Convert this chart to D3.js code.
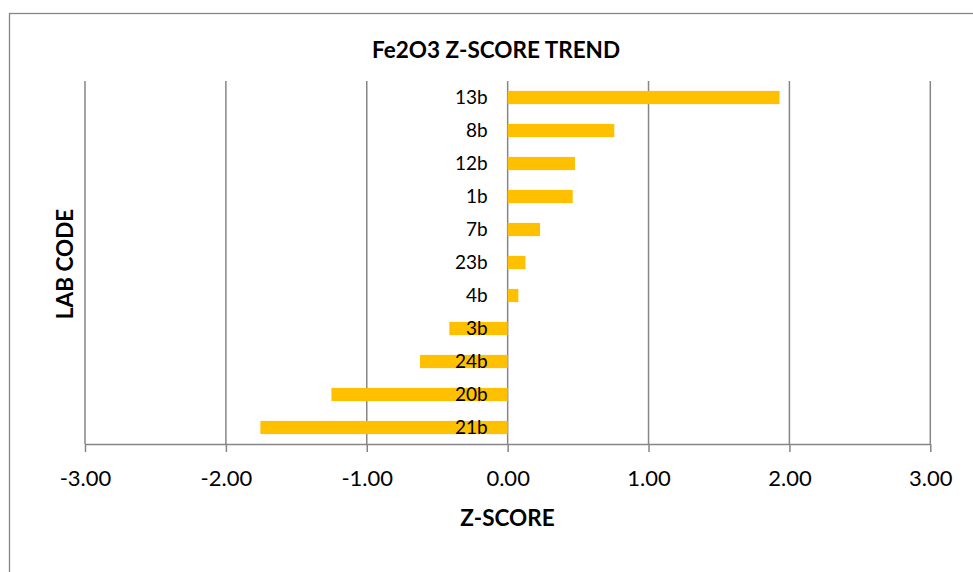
<!DOCTYPE html>
<html>
<head>
<meta charset="utf-8">
<script src="https://cdn.jsdelivr.net/npm/d3@7"></script>
<style>
html,body{margin:0;padding:0;background:#fff;}
svg{display:block;}
text{font-family:Lato,"Open Sans","Noto Sans",sans-serif;fill:#000;}
</style>
</head>
<body>
<svg id="chart" width="973" height="572"></svg>
<script>
const labCodes = ["13b","8b","12b","1b","7b","23b","4b","3b","24b","20b","21b"];
const zScores = [1.93, 0.757, 0.478, 0.462, 0.23, 0.126, 0.076, -0.414, -0.622, -1.251, -1.755];
const xTicks = [-3, -2, -1, 0, 1, 2, 3];
const title = "Fe2O3 Z-SCORE TREND";
const xTitle = "Z-SCORE";
const yTitle = "LAB CODE";

const svg = d3.select("#chart");
const plot = {left: 85, right: 930.3, top: 81, bottom: 444};

// chart border (extends beyond right and bottom edges)
svg.append("rect").attr("x", 9.5).attr("y", 13.5).attr("width", 1000).attr("height", 600)
  .attr("fill", "none").attr("stroke", "#868686").attr("stroke-width", 1.3);

const x = d3.scaleLinear().domain([-3, 3]).range([plot.left, plot.right]);
const y = d3.scaleBand().domain(labCodes).range([plot.top, plot.bottom]).paddingInner(0.6).paddingOuter(0.3);

// gridlines
svg.append("g").selectAll("line").data(xTicks).join("line")
  .attr("x1", d => x(d)).attr("x2", d => x(d))
  .attr("y1", plot.top).attr("y2", plot.bottom)
  .attr("stroke", "#868686").attr("stroke-width", 1.5);

// bars
svg.append("g").selectAll("rect").data(labCodes.map((c, i) => ({c, v: zScores[i]}))).join("rect")
  .attr("x", d => Math.min(x(0), x(d.v)))
  .attr("width", d => Math.abs(x(d.v) - x(0)))
  .attr("y", d => y(d.c))
  .attr("height", y.bandwidth())
  .attr("fill", "#FFC000");

// x axis
const xAxis = d3.axisBottom(x).tickValues(xTicks).tickFormat(d => d.toFixed(2)).tickSize(8).tickSizeOuter(0).tickPadding(18);
const gx = svg.append("g").attr("transform", `translate(0,${plot.bottom})`).call(xAxis);
gx.select(".domain").attr("stroke", "#868686").attr("stroke-width", 1.5);
gx.selectAll(".tick line").attr("stroke", "#868686").attr("stroke-width", 1.5);
gx.selectAll(".tick text").attr("font-size", 22).attr("font-family", "Lato, 'Open Sans', sans-serif").attr("fill", "#000");

// category labels at zero line
const yAxis = d3.axisLeft(y).tickSize(0).tickPadding(20);
const gy = svg.append("g").attr("transform", `translate(${x(0)},0)`).call(yAxis);
gy.select(".domain").remove();
gy.selectAll(".tick text").attr("font-size", 19).attr("font-family", "Lato, 'Open Sans', sans-serif").attr("fill", "#000");

// titles
svg.append("text").attr("x", 496).attr("y", 58).attr("text-anchor", "middle")
  .attr("font-size", 22.5).attr("font-weight", "bold").text(title);
svg.append("text").attr("x", 507.5).attr("y", 526).attr("text-anchor", "middle")
  .attr("font-size", 22.5).attr("font-weight", "bold").text(xTitle);
svg.append("text").attr("transform", "translate(73,264) rotate(-90)").attr("text-anchor", "middle")
  .attr("font-size", 22.5).attr("font-weight", "bold").text(yTitle);
</script>
</body>
</html>
